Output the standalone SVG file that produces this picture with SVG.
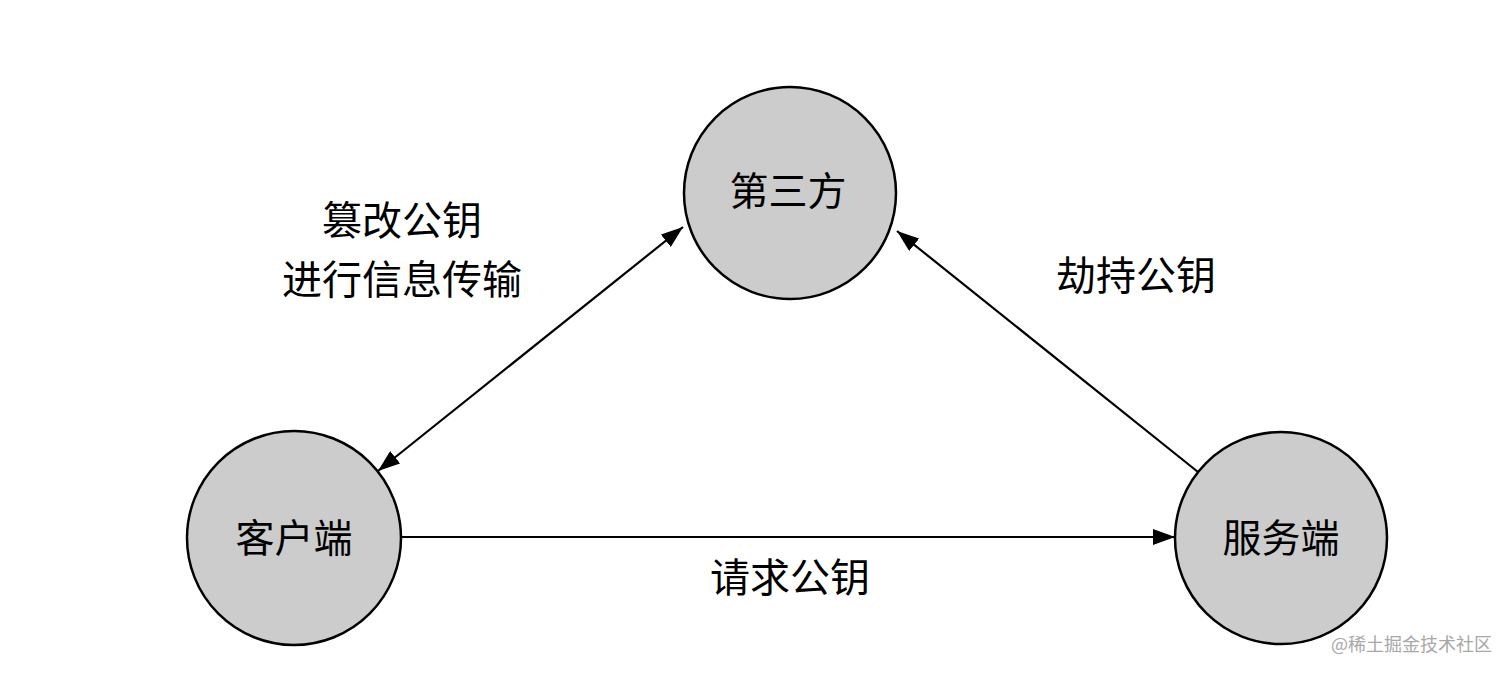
<svg xmlns="http://www.w3.org/2000/svg" width="1512" height="677" viewBox="0 0 1512 677">
  <defs>
    <marker id="arrow" markerUnits="userSpaceOnUse" viewBox="0 0 22 16" refX="22" refY="8" markerWidth="22" markerHeight="16" orient="auto-start-reverse">
      <path d="M0,0 L22,8 L0,16 z" fill="#000"/>
    </marker>
    <style>
      .node circle { fill: #cccccc; stroke: #000; stroke-width: 2.5; }
      .node text { font-family: "Noto Sans CJK SC", sans-serif; font-size: 39px; fill: #000; text-anchor: middle; }
      .edge { stroke: #000; stroke-width: 2.2; fill: none; }
      .label { font-family: "Noto Sans CJK SC", sans-serif; font-size: 40px; fill: #000; text-anchor: middle; }
      .wm { font-family: "Noto Sans CJK SC", sans-serif; font-size: 18px; fill: #a8a8a8; }
    </style>
  </defs>
  <rect width="1512" height="677" fill="#fff"/>
  <g id="connectors">
    <line class="edge" x1="378" y1="471" x2="683" y2="227" marker-start="url(#arrow)" marker-end="url(#arrow)"/>
    <line class="edge" x1="1198" y1="472" x2="897" y2="231" marker-end="url(#arrow)"/>
    <line class="edge" x1="401" y1="537" x2="1175" y2="537" marker-end="url(#arrow)"/>
    <text class="label" x="402" y="235">篡改公钥</text>
    <text class="label" x="402" y="294">进行信息传输</text>
    <text class="label" x="1136" y="290">劫持公钥</text>
    <text class="label" x="790" y="592">请求公钥</text>
  </g>
  <g id="third" class="node">
    <circle cx="790" cy="193" r="106"/>
    <text x="788" y="205">第三方</text>
  </g>
  <g id="client" class="node">
    <circle cx="294" cy="538" r="107"/>
    <text x="294" y="552">客户端</text>
  </g>
  <g id="server" class="node">
    <circle cx="1281" cy="538" r="106"/>
    <text x="1281" y="552">服务端</text>
  </g>
  <text class="wm" x="1331" y="651">@稀土掘金技术社区</text>
</svg>
